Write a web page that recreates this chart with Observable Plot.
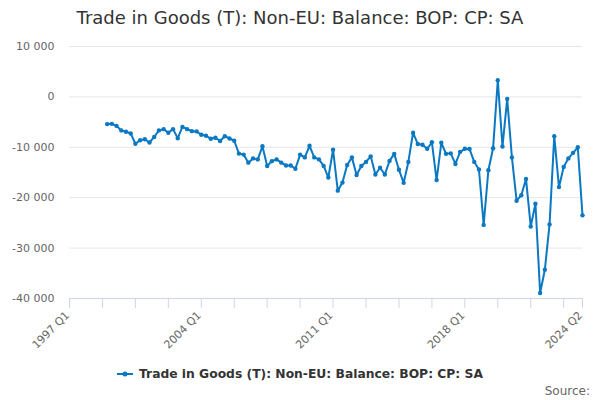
<!DOCTYPE html>
<html>
<head>
<meta charset="utf-8">
<script src="https://cdn.jsdelivr.net/npm/d3@7"></script>
<script src="https://cdn.jsdelivr.net/npm/@observablehq/plot@0.6"></script>
<style>
  html, body { margin: 0; padding: 0; background: #fff; }
  body { width: 600px; height: 400px; position: relative; overflow: hidden; font-family: "DejaVu Sans", sans-serif; }
  #title { height: 36px; line-height: 36px; text-align: center; font-size: 18px; color: #333; padding-left: 0px; }
  #legend { height: 34px; display: flex; align-items: center; justify-content: center; font-size: 12.3px; font-weight: bold; color: #333; padding-top: 1px; }
  #legend svg { margin-right: 6px; }
  #source { position: absolute; top: 384px; right: 10px; font-size: 12px; color: #666; }
</style>
</head>
<body>
<div id="title">Trade in Goods (T): Non-EU: Balance: BOP: CP: SA</div>
<div id="chart"></div>
<div id="legend"><svg width="16" height="10"><line x1="0" y1="5" x2="16" y2="5" stroke="#0a78c2" stroke-width="2"/><circle cx="8" cy="5" r="2.5" fill="#0a78c2"/></svg><span>Trade in Goods (T): Non-EU: Balance: BOP: CP: SA</span></div>
<div id="source">Source:</div>
<script>
const seriesName = "Trade in Goods (T): Non-EU: Balance: BOP: CP: SA";
const axisStart = "1997 Q1";
const axisEnd = "2024 Q2";
const xTickLabels = ["1997 Q1", "2004 Q1", "2011 Q1", "2018 Q1", "2024 Q2"];
const yTicks = [10000, 0, -10000, -20000, -30000, -40000];

const quarters = [];
for (let y = 1999; y <= 2024; y++) for (let q = 1; q <= 4; q++) {
  if (y === 2024 && q > 2) break;
  quarters.push(y + " Q" + q);
}
const values = [
  -5400, -5350, -5750, -6650,
  -6900, -7250, -9300, -8600,
  -8400, -9050, -7950, -6650,
  -6400, -7100, -6400, -8200,
  -5950, -6400, -6800, -6850,
  -7500, -7700, -8300, -8100,
  -8750, -7800, -8250, -8700,
  -11250, -11450, -13050, -12200,
  -12400, -9800, -13700, -12750,
  -12400, -13050, -13600, -13600,
  -14250, -11450, -12000, -9700,
  -12000, -12400, -13700, -16000,
  -10500, -18600, -17000, -13500,
  -12000, -15500, -13700, -12900,
  -11800, -15400, -14050, -15400,
  -12700, -11300, -14450, -17050,
  -12900, -7100, -9350, -9500,
  -10300, -9000, -16500, -9100,
  -11300, -11200, -13300, -10900,
  -10300, -10350, -12900, -14400,
  -25400, -14550, -10200, 3300,
  -9850, -400, -12000, -20600,
  -19500, -16300, -25700, -21200,
  -38900, -34300, -25300, -7800,
  -17900, -13900, -12200, -11100,
  -10000, -23500
];

const qIndex = s => { const [y, q] = s.split(" Q").map(Number); return (y - 1997) * 4 + (q - 1); };
const data = quarters.map((q, k) => ({ q, i: qIndex(q), v: values[k] }));
const i0 = qIndex(axisStart), i1 = qIndex(axisEnd);
const tickPos = d3.range(i0, i1, 7).concat([i1]);
const labelPos = xTickLabels.map(qIndex);
const labelMap = new Map(xTickLabels.map(l => [qIndex(l), l]));
const fmtY = d => (d < 0 ? "-" : "") + d3.format(",")(Math.abs(d)).replace(/,/g, " ");
const color = "#0a78c2";

const chart = Plot.plot({
  width: 600,
  height: 320,
  marginLeft: 69,
  marginRight: 18,
  marginTop: 10,
  marginBottom: 58,
  style: { fontFamily: "DejaVu Sans, sans-serif", background: "#fff" },
  x: { domain: [i0, i1] },
  y: { domain: [-40000, 10000] },
  marks: [
    Plot.gridY(yTicks.slice(0, -1), { stroke: "#e6e6e6", strokeOpacity: 1 }),
    Plot.axisY(yTicks, { tickSize: 0, tickPadding: 15, tickFormat: fmtY, fontSize: 11, fill: "#666", label: null }),
    Plot.ruleY([-40000], { stroke: "#ccd6eb" }),
    Plot.axisX(tickPos, { tickSize: 10, stroke: "#ccd6eb", text: null, label: null }),
    Plot.axisX(labelPos, { tickSize: 0, tickPadding: 15, tickRotate: -45, dx: -2, tickFormat: d => labelMap.get(d), fontSize: 11, fill: "#666", label: null }),
    Plot.line(data, { x: "i", y: "v", stroke: color, strokeWidth: 2 }),
    Plot.dot(data, { x: "i", y: "v", r: 2.2, fill: color })
  ]
});
document.getElementById("chart").appendChild(chart);
</script>
</body>
</html>
